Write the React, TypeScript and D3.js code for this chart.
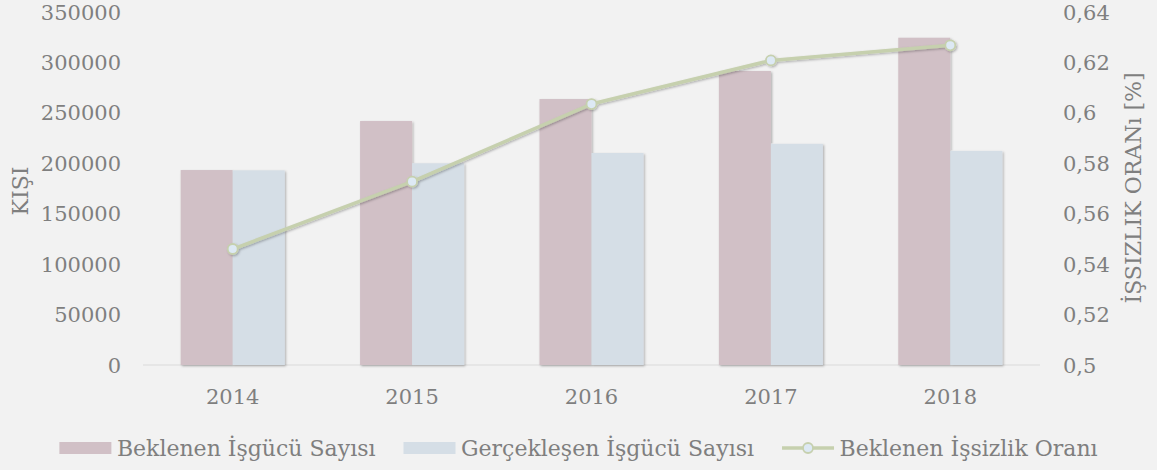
import React, { useEffect, useRef } from 'react';
import * as d3 from 'd3';

const years = ['2014', '2015', '2016', '2017', '2018'];
const expectedWorkforce = [193300, 241900, 263700, 291500, 324500];
const actualWorkforce = [193000, 200000, 210200, 219300, 212300];
const expectedUnemployment = [0.546, 0.5727, 0.6035, 0.6208, 0.6268];

const leftTicks = [0, 50000, 100000, 150000, 200000, 250000, 300000, 350000];
const rightTicks = [0.5, 0.52, 0.54, 0.56, 0.58, 0.6, 0.62, 0.64];

const legendLabels = ['Beklenen İşgücü Sayısı', 'Gerçekleşen İşgücü Sayısı', 'Beklenen İşsizlik Oranı'];

const WIDTH = 1157;
const HEIGHT = 470;
const FONT = "'DejaVu Serif', serif";
const TEXT = '#7f7f7f';
const PINK = '#d1c0c6';
const BLUE = '#d5dee6';
const GREEN = '#c6d0ae';

const App: React.FC = () => {
  const svgRef = useRef<SVGSVGElement>(null);

  useEffect(() => {
    document.body.style.margin = '0';
    if (!svgRef.current) return;
    const svg = d3.select(svgRef.current);
    svg.selectAll('*').remove();

    const defs = svg.append('defs');
    const f = defs.append('filter').attr('id', 'shadow')
      .attr('x', '-20%').attr('y', '-20%').attr('width', '140%').attr('height', '140%');
    f.append('feDropShadow').attr('dx', 1.2).attr('dy', 1.2)
      .attr('stdDeviation', 1.3).attr('flood-color', '#000').attr('flood-opacity', 0.28);

    svg.append('rect').attr('width', WIDTH).attr('height', HEIGHT).attr('fill', '#f2f2f2');

    const plotLeft = 143, plotRight = 1040, plotTop = 12, plotBottom = 365;

    const x = d3.scaleBand<string>().domain(years).range([plotLeft, plotRight])
      .paddingInner(0.42).paddingOuter(0.21);
    const sub = d3.scaleBand<string>().domain(['a', 'b']).range([0, x.bandwidth()]);
    const yLeft = d3.scaleLinear().domain([0, 350000]).range([plotBottom, plotTop]);
    const yRight = d3.scaleLinear().domain([0.5, 0.64]).range([plotBottom, plotTop]);

    // axis baseline
    svg.append('line')
      .attr('x1', plotLeft).attr('x2', plotRight)
      .attr('y1', plotBottom).attr('y2', plotBottom)
      .attr('stroke', '#d9d9d9').attr('stroke-width', 1.2);

    // left ticks
    svg.append('g').selectAll('text').data(leftTicks).join('text')
      .attr('x', 121).attr('y', d => yLeft(d)).attr('dy', '0.36em')
      .attr('text-anchor', 'end').attr('font-family', FONT).attr('font-size', 21)
      .attr('fill', TEXT).text(d => String(d));

    // right ticks
    svg.append('g').selectAll('text').data(rightTicks).join('text')
      .attr('x', 1063).attr('y', d => yRight(d)).attr('dy', '0.36em')
      .attr('font-family', FONT).attr('font-size', 21)
      .attr('fill', TEXT).text(d => String(d).replace('.', ','));

    // x labels
    svg.append('g').selectAll('text').data(years).join('text')
      .attr('x', d => (x(d) as number) + x.bandwidth() / 2).attr('y', 396).attr('dy', '0.36em')
      .attr('text-anchor', 'middle').attr('font-family', FONT).attr('font-size', 21)
      .attr('fill', TEXT).text(d => d);

    // axis titles
    svg.append('text')
      .attr('transform', 'translate(20,191) rotate(-90)').attr('dy', '0.36em')
      .attr('text-anchor', 'middle').attr('font-family', FONT).attr('font-size', 22)
      .attr('fill', TEXT).text('KIŞI');
    svg.append('text')
      .attr('transform', 'translate(1133,188) rotate(-90)').attr('dy', '0.36em')
      .attr('text-anchor', 'middle').attr('font-family', FONT).attr('font-size', 22)
      .attr('fill', TEXT).text('İŞSIZLIK ORANı [%]');

    // bars
    const bars = svg.append('g').attr('filter', 'url(#shadow)');
    bars.selectAll('rect.exp').data(years).join('rect').attr('class', 'exp')
      .attr('x', d => (x(d) as number) + (sub('a') as number))
      .attr('width', sub.bandwidth())
      .attr('y', (d, i) => yLeft(expectedWorkforce[i]))
      .attr('height', (d, i) => plotBottom - yLeft(expectedWorkforce[i]))
      .attr('fill', PINK);
    bars.selectAll('rect.act').data(years).join('rect').attr('class', 'act')
      .attr('x', d => (x(d) as number) + (sub('b') as number))
      .attr('width', sub.bandwidth())
      .attr('y', (d, i) => yLeft(actualWorkforce[i]))
      .attr('height', (d, i) => plotBottom - yLeft(actualWorkforce[i]))
      .attr('fill', BLUE);

    // line
    const pts: [number, number][] = years.map((d, i) => [
      (x(d) as number) + x.bandwidth() / 2, yRight(expectedUnemployment[i])
    ]);
    const lg = svg.append('g').attr('filter', 'url(#shadow)');
    lg.append('path').attr('d', d3.line()(pts) as string)
      .attr('fill', 'none').attr('stroke', GREEN).attr('stroke-width', 3.5)
      .attr('stroke-linejoin', 'round');
    lg.selectAll('circle').data(pts).join('circle')
      .attr('cx', d => d[0]).attr('cy', d => d[1]).attr('r', 5)
      .attr('fill', '#dde9f4').attr('stroke', GREEN).attr('stroke-width', 1.8);

    // legend, centred by measured widths
    const legend = svg.append('g');
    const legendY = 448;
    const swatchW = 52, gapText = 5.5, gapItem = 28;
    const texts = legendLabels.map(l => legend.append('text')
      .attr('y', legendY).attr('dy', '0.36em')
      .attr('font-family', FONT).attr('font-size', 22).attr('fill', TEXT).text(l));
    const widths = texts.map(t => (t.node() as SVGTextElement).getComputedTextLength());
    const total = widths.reduce((s, w) => s + w, 0) + 3 * (swatchW + gapText) + 2 * gapItem;
    let cx = (WIDTH - total) / 2;
    legendLabels.forEach((l, i) => {
      if (i < 2) {
        legend.append('rect').attr('x', cx).attr('y', legendY - 6)
          .attr('width', swatchW).attr('height', 12).attr('fill', i === 0 ? PINK : BLUE);
      } else {
        legend.append('line').attr('x1', cx).attr('x2', cx + swatchW)
          .attr('y1', legendY).attr('y2', legendY)
          .attr('stroke', GREEN).attr('stroke-width', 3.5);
        legend.append('circle').attr('cx', cx + swatchW / 2).attr('cy', legendY).attr('r', 5)
          .attr('fill', '#dde9f4').attr('stroke', GREEN).attr('stroke-width', 1.8);
      }
      texts[i].attr('x', cx + swatchW + gapText);
      cx += swatchW + gapText + widths[i] + gapItem;
    });
  }, []);

  return (
    <div style={{ width: WIDTH, height: HEIGHT }}>
      <svg ref={svgRef} width={WIDTH} height={HEIGHT} style={{ display: 'block' }} />
    </div>
  );
};

export default App;
